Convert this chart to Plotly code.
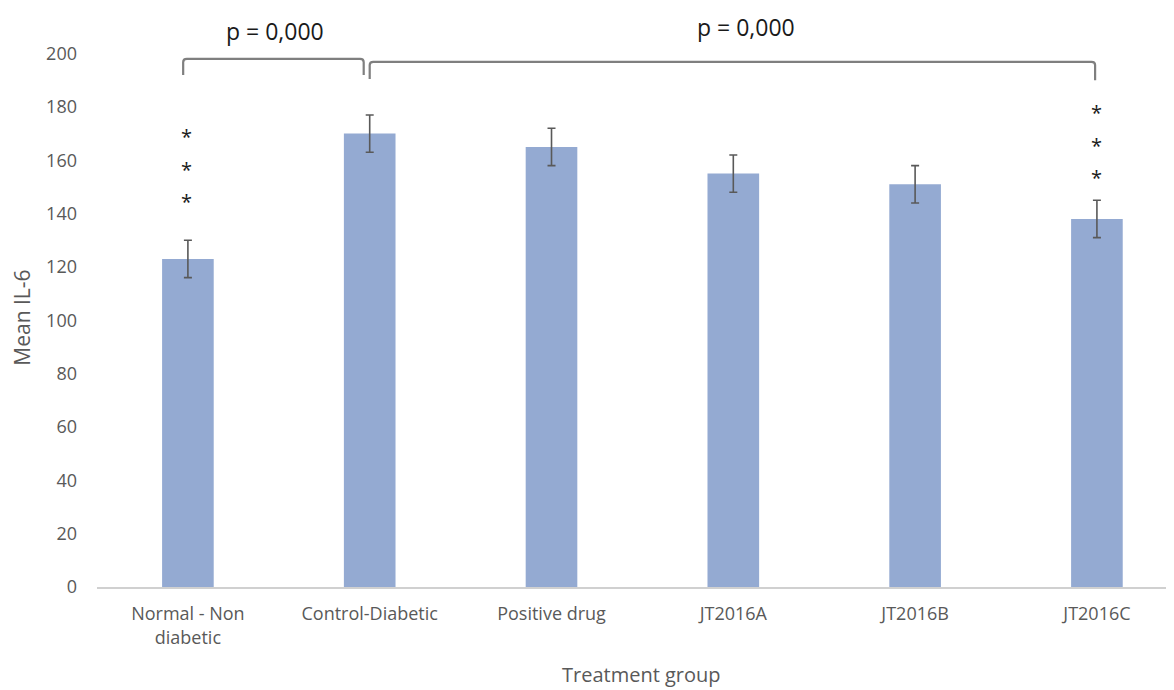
import plotly.graph_objects as go

categories = ["Normal - Non<br>diabetic", "Control-Diabetic", "Positive drug", "JT2016A", "JT2016B", "JT2016C"]
mean_il6 = [123, 170, 165, 155, 151, 138]
err = [7, 7, 7, 7, 7, 7]
y_ticks = [0, 20, 40, 60, 80, 100, 120, 140, 160, 180, 200]

# comparison brackets: (x start, x end, y top, y left foot, y right foot, label, label x, label y)
brackets = [
    (-0.026, 0.967, 198.0, 192.0, 192.0, "p = 0,000", 0.48, 208.3),
    (1.0, 4.99, 196.9, 190.5, 190.0, "p = 0,000", 3.07, 210.0),
]
# significance stars: (x, y list)
stars = [
    (-0.01, [169.1, 156.7, 144.4]),
    (5.0, [178.1, 165.7, 153.4]),
]

xs = list(range(len(categories)))
font = "Open Sans"
gray = "#595959"

fig = go.Figure()
fig.add_trace(go.Bar(
    x=xs, y=mean_il6, width=0.284,
    marker=dict(color="#94AAD2", line=dict(width=0)),
    error_y=dict(type="data", array=err, visible=True, color="#595959", thickness=1.6, width=4),
))

shapes = []
annotations = []
for (x0, x1, yt, yl, yr, lab, lx, ly) in brackets:
    r = 0.02
    ry = 1.2
    path = (f"M {x0},{yl} L {x0},{yt-ry} Q {x0},{yt} {x0+r},{yt} "
            f"L {x1-r},{yt} Q {x1},{yt} {x1},{yt-ry} L {x1},{yr}")
    shapes.append(dict(type="path", path=path, xref="x", yref="y",
                       line=dict(color="#7f7f7f", width=2.2)))
    annotations.append(dict(x=lx, y=ly, xref="x", yref="y", text=lab, showarrow=False,
                            xanchor="center", yanchor="middle",
                            font=dict(family=font, size=23, color="#1a1a1a")))
for (sx, sys_) in stars:
    for sy in sys_:
        annotations.append(dict(x=sx, y=sy, xref="x", yref="y", text="*", showarrow=False,
                                xanchor="center", yanchor="middle",
                                font=dict(family=font, size=20, color="#1a1a1a")))

annotations.append(dict(x=0.506, y=-0.151, xref="paper", yref="paper", text="Treatment group",
                        showarrow=False, xanchor="center", yanchor="middle",
                        font=dict(family=font, size=20, color=gray)))
annotations.append(dict(x=-0.0696, y=101, xref="paper", yref="y", text="Mean IL-6",
                        showarrow=False, textangle=-90, xanchor="center", yanchor="middle",
                        font=dict(family=font, size=21, color=gray)))

fig.update_layout(
    width=1166, height=682,
    margin=dict(l=89, r=0, t=0, b=103),
    paper_bgcolor="white", plot_bgcolor="white",
    showlegend=False,
    shapes=shapes, annotations=annotations,
    xaxis=dict(range=[-0.5, 5.424], tickvals=xs, ticktext=categories,
               showgrid=False, zeroline=False, showline=True, linecolor="#d0d0d0", linewidth=1.5,
               ticks="", ticklabelstandoff=10, tickfont=dict(family=font, size=18, color=gray)),
    yaxis=dict(range=[0, 217.1], tickvals=y_ticks, showgrid=False, zeroline=False, showline=False,
               ticks="", ticklabelstandoff=19, tickfont=dict(family=font, size=18, color=gray)),
)

fig.write_html("out.html")
